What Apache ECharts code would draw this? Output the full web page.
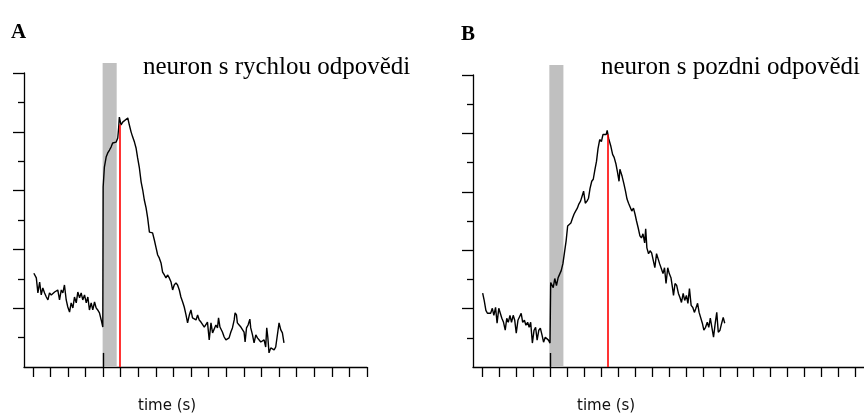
<!DOCTYPE html>
<html>
<head>
<meta charset="utf-8">
<script src="https://cdn.jsdelivr.net/npm/echarts@6/dist/echarts.min.js"></script>
<style>
  html, body { margin: 0; padding: 0; background: #fff; }
  #chart { width: 864px; height: 417px; }
</style>
</head>
<body>
<div id="chart"></div>
<script>
// panel A - neuron with fast response
var timeA = [-3.94,-3.80,-3.71,-3.61,-3.52,-3.43,-3.33,-3.23,-3.14,-3.05,-2.95,-2.76,-2.67,-2.58,-2.48,-2.38,-2.29,-2.20,-2.10,-2.01,
  -1.91,-1.82,-1.72,-1.63,-1.53,-1.44,-1.34,-1.25,-1.16,-1.06,-0.96,-0.87,-0.78,-0.68,-0.59,-0.49,-0.40,-0.31,-0.21,-0.11,-0.02,
  0.00,0.07,0.17,0.26,0.36,0.45,0.54,0.64,0.74,0.83,0.88,0.92,1.02,1.11,1.21,1.40,1.49,1.59,1.68,1.78,1.87,1.96,2.06,2.16,2.25,
  2.34,2.44,2.53,2.63,2.72,2.81,2.91,3.01,3.10,3.19,3.29,3.38,3.48,3.57,3.66,3.76,3.86,3.95,4.04,4.14,4.23,4.33,4.42,4.52,4.61,
  4.71,4.80,4.90,4.99,5.08,5.18,5.28,5.37,5.46,5.56,5.65,5.75,5.84,5.93,6.03,6.13,6.22,6.31,6.41,6.50,6.56,6.64,6.69,6.78,6.88,
  6.98,7.07,7.16,7.26,7.35,7.45,7.50,7.58,7.63,7.73,7.83,7.92,8.01,8.07,8.15,8.24,8.34,8.39,8.49,8.58,8.68,8.77,8.87,8.96,9.05,
  9.15,9.24,9.30,9.36,9.43,9.53,9.62,9.72,9.81,9.90,10.00,10.10,10.19,10.28];
var valueA = [3.19,3.03,2.52,2.89,2.45,2.69,2.52,2.38,2.28,2.52,2.45,2.55,2.52,2.62,2.28,2.62,2.52,2.79,2.28,2.04,
  1.87,2.18,2.01,2.38,2.18,2.55,2.35,2.52,2.28,2.45,2.18,2.38,1.94,2.18,1.94,2.21,2.01,1.94,1.84,1.60,1.36,
  6.12,6.80,7.14,7.28,7.38,7.48,7.62,7.65,7.65,7.79,8.13,8.50,8.23,8.33,8.33,8.47,8.23,7.99,7.82,7.65,7.45,7.11,6.77,6.29,6.02,
  5.68,5.41,5.07,4.59,4.56,4.56,4.32,4.05,3.81,3.71,3.54,3.23,3.13,3.03,3.13,3.03,2.89,2.62,2.79,2.86,2.79,2.62,2.38,2.21,2.04,
  1.77,1.50,1.77,1.94,1.67,1.70,1.60,1.77,1.60,1.53,1.50,1.36,1.33,1.53,0.92,1.50,1.16,1.19,1.43,1.33,1.67,1.36,1.33,1.19,1.02,
  0.92,0.88,0.99,1.19,1.33,1.60,1.84,1.77,1.50,1.43,1.36,1.33,1.19,0.85,1.33,1.43,1.63,1.33,1.09,0.82,1.09,0.99,0.92,0.85,0.82,
  0.92,0.68,1.33,1.02,0.48,0.65,0.68,0.58,0.68,0.68,1.50,1.26,1.16,0.82];

// panel B - neuron with late response
var timeB = [-3.98,-3.89,-3.79,-3.70,-3.60,-3.51,-3.41,-3.32,-3.22,-3.13,-3.03,-2.94,-2.85,-2.75,-2.65,-2.56,-2.47,-2.37,-2.28,-2.18,
  -2.09,-2.00,-1.90,-1.80,-1.71,-1.62,-1.52,-1.43,-1.33,-1.24,-1.15,-1.05,-0.95,-0.86,-0.77,-0.67,-0.58,-0.48,-0.39,-0.29,-0.20,-0.10,-0.01,
  0.03,0.09,0.18,0.27,0.37,0.47,0.56,0.65,0.75,0.84,0.94,1.03,1.12,1.22,1.32,1.41,1.50,1.60,1.69,1.79,1.88,1.97,2.07,2.17,2.26,
  2.35,2.45,2.54,2.64,2.73,2.82,2.92,3.02,3.11,3.20,3.30,3.36,3.45,3.58,3.68,3.77,3.87,3.96,4.06,4.11,4.24,4.34,4.44,4.53,4.62,
  4.72,4.81,4.91,5.00,5.09,5.19,5.29,5.38,5.47,5.57,5.63,5.70,5.80,5.89,5.98,6.08,6.17,6.27,6.36,6.45,6.55,6.65,6.74,6.83,6.93,
  7.02,7.12,7.21,7.27,7.36,7.46,7.56,7.65,7.74,7.84,7.93,8.03,8.12,8.21,8.31,8.41,8.50,8.59,8.69,8.78,8.88,8.97,9.06,9.16,9.26,
  9.35,9.44,9.54,9.63,9.73,9.82,9.91,10.01,10.11,10.20,10.29];
var valueB = [2.53,2.28,1.94,1.84,1.87,1.84,2.01,1.77,2.04,1.50,2.01,1.84,1.67,1.53,1.26,1.67,1.53,1.77,1.53,1.77,
  1.60,1.16,1.60,1.60,1.84,1.53,1.60,1.43,1.53,1.36,1.53,0.82,1.26,1.36,0.92,1.26,1.33,1.09,0.85,1.02,0.99,0.92,0.82,
  2.89,2.89,2.72,3.03,2.79,3.06,3.03,3.30,3.54,3.91,4.32,4.83,4.83,4.93,5.10,5.24,5.34,5.44,5.58,5.68,5.85,6.02,5.61,5.68,5.78,
  6.12,6.36,6.43,6.77,7.04,7.48,7.79,7.72,7.96,7.99,7.96,8.10,7.82,7.55,7.28,7.18,6.97,6.70,6.36,6.77,6.53,6.29,6.02,5.75,5.61,
  5.58,5.34,5.44,5.24,5.00,4.76,4.49,4.42,4.56,4.25,4.73,4.08,3.88,3.98,3.91,3.91,3.40,3.88,3.71,3.54,3.37,3.20,3.40,2.86,3.40,
  3.20,3.06,2.72,2.45,2.86,2.79,2.52,2.38,2.21,2.52,2.28,2.45,2.18,2.69,2.11,2.04,1.87,2.01,2.18,1.87,1.84,1.50,1.26,1.36,1.53,
  1.36,1.67,1.33,1.02,1.50,1.87,1.19,1.26,1.50,1.70,1.50];

var tickTimesA = [-4,-3,-2,-1,0,1,2,3,4,5,6,7,8,9,10,11,12,13,14,15];
var tickTimesB = [-4,-3,-2,-1,0,1,2,3,4,5,6,7,8,9,10,11,12,13,14,15,16,17,18];
var yMajorTicks = [2,4,6,8,10];
var yMinorTicks = [1,3,5,7,9];

// stimulus window [start, end, top] and time/height of the response peak (red line)
var stimA = [-0.03, 0.77, 10.34];
var stimB = [-0.05, 0.78, 10.34];
var stimMarkTop = 0.48;
var peakA = [0.92, 8.25];
var peakB = [3.39, 7.96];

function zip(xs, ys) {
  return xs.map(function (x, i) { return [x, ys[i]]; });
}

function xAxisFor(gridIndex, min, max, ticks) {
  return {
    type: 'value', gridIndex: gridIndex, min: min, max: max,
    axisLine: { show: true, onZero: false, lineStyle: { color: '#000', width: 1.3 } },
    axisTick: { show: true, length: 10, customValues: ticks, lineStyle: { color: '#000', width: 1.3 } },
    axisLabel: { show: false },
    splitLine: { show: false }
  };
}

function yAxisFor(gridIndex, ticks, len, line) {
  return {
    type: 'value', gridIndex: gridIndex, min: 0, max: 10, position: 'left', offset: 0,
    axisLine: { show: line, onZero: false, lineStyle: { color: '#000', width: 1.3 } },
    axisTick: { show: true, length: len, customValues: ticks, lineStyle: { color: '#000', width: 1.3 } },
    axisLabel: { show: false },
    splitLine: { show: false }
  };
}

// grey stimulus bar, allowed to reach above the top tick
function stimSeries(idx, stim) {
  return {
    type: 'custom', xAxisIndex: idx, yAxisIndex: idx * 2, z: 1, silent: true, clip: false,
    data: [stim],
    renderItem: function (params, api) {
      var p0 = api.coord([api.value(0), api.value(2)]);
      var p1 = api.coord([api.value(1), 0]);
      return {
        type: 'rect',
        shape: { x: p0[0], y: p0[1], width: p1[0] - p0[0], height: p1[1] - p0[1] },
        style: { fill: '#c0c0c0' }
      };
    }
  };
}

function traceSeries(idx, data, peak) {
  return {
    type: 'line', xAxisIndex: idx, yAxisIndex: idx * 2,
    data: data, showSymbol: false, clip: false, z: 3,
    lineStyle: { color: '#000', width: 1.4 },
    markLine: {
      silent: true, symbol: 'none', animation: false, z: 4,
      label: { show: false },
      emphasis: { disabled: true },
      data: [
        [{ coord: [peak[0], 0], lineStyle: { color: '#ff0000', width: 1.6, type: 'solid', opacity: 1 } }, { coord: [peak[0], peak[1]] }],
        [{ coord: [0, 0], lineStyle: { color: '#000', width: 1.4, type: 'solid', opacity: 1 } }, { coord: [0, stimMarkTop] }]
      ]
    }
  };
}

var chart = echarts.init(document.getElementById('chart'), null, { renderer: 'canvas' });

var serif = '"Liberation Serif", "Times New Roman", serif';
var sans = '"DejaVu Sans", sans-serif';

chart.setOption({
  animation: false,
  backgroundColor: '#fff',
  grid: [
    { left: 24, top: 73, width: 343, height: 294 },
    { left: 473, top: 75, width: 405, height: 292 }
  ],
  xAxis: [
    xAxisFor(0, -4.5, 15, tickTimesA),
    xAxisFor(1, -4.55, 18.5, tickTimesB)
  ],
  yAxis: [
    yAxisFor(0, yMajorTicks, 11, true),
    yAxisFor(0, yMinorTicks, 6, false),
    yAxisFor(1, yMajorTicks, 11, true),
    yAxisFor(1, yMinorTicks, 6, false)
  ],
  graphic: [
    { type: 'text', left: 11, top: 22, style: { text: 'A', font: 'bold 21px ' + serif, fill: '#000' } },
    { type: 'text', left: 461, top: 24, style: { text: 'B', font: 'bold 21px ' + serif, fill: '#000' } },
    { type: 'text', left: 143, top: 55, style: { text: 'neuron s rychlou odpovědi', font: '25px ' + serif, fill: '#000' } },
    { type: 'text', left: 601, top: 55, style: { text: 'neuron s pozdni odpovědi', font: '25px ' + serif, fill: '#000' } },
    { type: 'text', left: 138, top: 399, style: { text: 'time (s)', font: '15px ' + sans, fill: '#111' } },
    { type: 'text', left: 577, top: 399, style: { text: 'time (s)', font: '15px ' + sans, fill: '#111' } }
  ],
  series: [
    stimSeries(0, stimA),
    stimSeries(1, stimB),
    traceSeries(0, zip(timeA, valueA), peakA),
    traceSeries(1, zip(timeB, valueB), peakB)
  ]
});
</script>
</body>
</html>
